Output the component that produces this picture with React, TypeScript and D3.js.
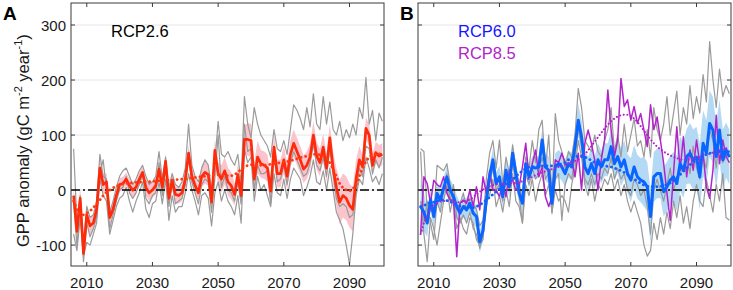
import React from "react";
import * as d3 from "d3";

const years: number[] = d3.range(2006, 2101);

// Panel A (RCP2.6)
const redA = [
  -10, -75, -15, -115,
  -45, -65, -60, -35, 40, 10, 15, -50, -35, -10,
  10, 12, 20, 8, 0, 5, 20, 32, 5, -5,
  0, 8, 38, 5, 52, -15, 18, -8, -10, -5,
  20, 67, 25, 8, -5, 25, 32, 28, -22, 72,
  30, 20, 35, 15, 8, -8, 28, -10, 92, 92,
  90, 20, 60, 48, 45, 40, -2, 78, 30, 30,
  55, 25, 65, 85, 70, 55, 38, 45, 60, 100,
  62, 50, 78, 40, 95, 40, 5, -22, -10, -15,
  -28, -35, 20, 55, 42, 112, 100, 45, 68, 62,
  65,
];
const redTrendA = [
  -20, -35, -45, -45,
  -42, -38, -32, -25, -18, -10, -4, 0, 4, 7,
  9, 11, 12, 13, 13, 14, 14, 15, 15, 15,
  16, 16, 17, 17, 18, 18, 18, 19, 19, 20,
  20, 21, 22, 23, 24, 24, 25, 26, 27, 28,
  28, 28, 27, 26, 26, 28, 32, 38, 42, 45,
  46, 46, 45, 45, 45, 46, 47, 48, 49, 50,
  51, 52, 53, 55, 57, 59, 60, 62, 64, 65,
  65, 64, 62, 58, 50, 38, 25, 12, 4, 0,
  -2, 2, 10, 25, 40, 52, 60, 64, 66, 66,
  65,
];
const redSpreadA = [
  15, 20, 20, 20,
  20, 15, 15, 15, 15, 20, 15, 15, 12, 12,
  12, 12, 12, 12, 12, 12, 12, 12, 15, 15,
  15, 15, 15, 15, 15, 15, 15, 15, 15, 15,
  15, 15, 15, 15, 15, 20, 20, 20, 20, 20,
  20, 25, 25, 25, 25, 20, 20, 20, 25, 30,
  30, 30, 30, 25, 25, 25, 25, 25, 25, 25,
  25, 25, 25, 25, 25, 25, 25, 25, 25, 25,
  25, 25, 25, 25, 25, 30, 35, 40, 40, 40,
  40, 40, 35, 25, 20, 20, 20, 20, 20, 20,
  20,
];
const grayA1 = [
  75, -60, -10, -100,
  -30, -50, -45, -20, 65, 25, 20, -40, -20, 5,
  25, 35, 40, 25, 10, 20, 35, 45, 25, 10,
  15, 25, 70, 20, 60, 5, 30, 10, 5, 15,
  40, 120, 45, 25, 15, 40, 55, 45, 0, 50,
  125, 65, 60, 70, 55, 45, 65, 10, 170, 120,
  95, 150, 120, 100, 90, 80, 60, 110, 75, 70,
  90, 65, 110, 155, 145, 130, 110, 150, 115, 175,
  120, 110, 170, 120, 160, 110, 100, 125, 90, 110,
  95, 120, 100, 150, 130, 205, 120, 145, 90, 140,
  125,
];
const grayA2 = [
  -20, -100, -30, -130,
  -60, -85, -70, -50, 30, 55, 0, -70, -45, -20,
  0, 5, 25, -5, -15, -5, 10, 30, -15, -25,
  -10, -5, 50, -10, 45, -30, 10, -25, -20, -15,
  10, 60, 15, -5, -25, 10, 20, 15, -40, 20,
  100, 5, 25, 0, -5, -20, 15, -25, 120, 70,
  75, 0, 45, 30, 30, 35, -25, 65, 15, 20,
  45, 10, 50, 70, 55, 40, 25, 30, 50, 85,
  45, 35, 60, 25, 75, 30, -15, -30, -25, -30,
  -50, -45, 0, 40, 25, 80, 75, 30, 55, 40,
  60,
];
const grayA3 = [
  -80, -110, -50, -120,
  -95, -100, -80, -60, 20, -10, -20, -80, -55, -30,
  -15, -10, 5, -20, -40, -20, -5, 15, -35, -50,
  -25, -20, 15, -25, 20, -55, -10, -40, -30, -30,
  -5, 30, 0, -20, -45, -10, -5, -15, -65, -5,
  15, -20, 0, -20, -30, -45, -10, -60, 75, 50,
  60, -20, 25, 0, 10, -10, -30, 30, -5, -10,
  20, -15, 20, 40, 30, 20, -10, 5, 25, 55,
  15, 10, 35, 0, 40, 0, -40, -55, -70, -100,
  -135, -80, -10, 20, 10, 60, 40, 15, 25, 10,
  30,
];

// Panel B (RCP6.0 and RCP8.5)
const blueB = [
  -30, -40, -60, -18,
  -48, -6, -18, 3, 24, 0, -12, -30, -42, -30,
  -36, -24, -42, -48, -94, -73, -18, 24, 55, 12,
  24, -12, 36, 6, 67, 30, -6, -24, 48, 24,
  42, 40, 42, 91, 42, 36, -24, 42, 48, 42,
  30, 48, 42, 79, 127, 97, 42, 30, 48, 30,
  55, 42, 55, 55, 79, 48, 61, 42, 55, 30,
  18, 42, 24, 18, 15, 6, -48, 24, 30, 30,
  -3, 6, 18, 24, 12, 48, 36, 61, 67, 55,
  60, 24, 85, 67, 121, 109, 61, 109, 55, 73,
  60,
];
const blueSpreadB = [
  50, 35, 25, 20,
  20, 20, 20, 20, 20, 20, 20, 20, 20, 20,
  20, 20, 20, 20, 20, 20, 20, 20, 20, 20,
  20, 20, 20, 20, 20, 20, 20, 20, 20, 20,
  20, 20, 20, 20, 25, 25, 25, 25, 25, 25,
  25, 25, 25, 30, 30, 30, 30, 30, 30, 30,
  30, 30, 30, 30, 30, 30, 30, 35, 35, 35,
  40, 40, 40, 40, 45, 45, 50, 45, 45, 45,
  45, 45, 45, 45, 50, 50, 50, 50, 55, 55,
  55, 60, 60, 60, 60, 60, 60, 55, 55, 50,
  50,
];
const blueTrendB = [
  -30, -28, -25, -23,
  -22, -20, -18, -18, -19, -21, -24, -27, -29, -30,
  -30, -32, -32, -30, -27, -23, -18, -13, -8, -3,
  2, 6, 10, 14, 19, 25, 30, 35, 39, 42,
  42, 43, 44, 44, 44, 44, 44, 45, 46, 48,
  50, 55, 58, 60, 62, 62, 60, 57, 54, 50,
  47, 45, 44, 43, 42, 40, 38, 35, 32, 28,
  24, 20, 16, 12, 9, 7, 6, 6, 6, 7,
  8, 10, 13, 17, 22, 28, 34, 40, 46, 51,
  55, 59, 62, 65, 67, 68, 69, 70, 70, 70,
  70,
];
const magentaB = [
  -79, 24, 12, -24,
  18, 10, 6, 24, -6, -18, -18, -121, -24, -18,
  -24, 0, -30, 6, -36, 24, -6, 36, 0, 0,
  -12, 12, -12, 36, 18, 0, 6, 42, 85, 24,
  48, 73, 24, 42, -12, -30, -12, 55, 50, 67,
  50, 42, 55, 24, 67, 0, 85, 109, 85, 55,
  0, 55, 91, 182, 109, 61, 91, 203, 152, 164,
  127, 152, 121, 139, 109, 79, 155, 110, 133, 91,
  48, -6, -55, 30, 115, 36, 97, 24, 73, 36,
  91, 48, 67, 6, -15, 36, 136, 48, 91, 61,
  50,
];
const magentaTrendB = [
  -80, -60, -45, -35,
  -28, -24, -21, -20, -20, -20, -21, -22, -22, -21,
  -20, -17, -13, -8, -3, 1, 4, 7, 9, 10,
  11, 11, 11, 12, 12, 13, 14, 16, 18, 21,
  24, 27, 30, 32, 34, 36, 38, 40, 42, 44,
  46, 48, 50, 53, 56, 60, 65, 72, 80, 88,
  96, 104, 112, 119, 125, 130, 134, 136, 137, 137,
  135, 130, 124, 116, 108, 100, 92, 85, 79, 74,
  70, 66, 63, 60, 58, 56, 55, 55, 56, 57,
  59, 60, 62, 64, 66, 68, 70, 72, 74, 76,
  78,
];
const grayB1 = [
  75, 70, -40, -20,
  -50, 45, 40, 35, 48, 10, -15, -35, -25, -5,
  -35, -15, -25, -35, -65, -55, 20, 67, 90, 40,
  91, 10, 60, 30, 82, 40, 10, -20, 60, 40,
  90, 50, 110, 127, 40, 100, -10, 139, 90, 70,
  40, 70, 60, 100, 185, 150, 90, 80, 70, 100,
  70, 60, 90, 110, 150, 70, 100, 60, 120, 70,
  100, 130, 80, 90, 60, 110, 60, 150, 110, 90,
  120, 170, 100, 140, 180, 100, 150, 120, 190, 130,
  170, 140, 210, 160, 270, 200, 150, 220, 170, 190,
  175,
];
const grayB2 = [
  70, -60, -20, -60,
  -90, -20, -40, 0, 30, -20, 10, -50, -60, -45,
  -60, -40, -70, -80, -106, -80, -30, 10, 40, 0,
  10, -20, 20, 0, 50, 10, -10, -60, 30, 10,
  40, 20, 30, 60, 20, 30, -42, 20, 30, -55,
  10, 30, 20, 60, 110, 80, 20, 10, 30, 10,
  30, 20, 40, 30, 60, 20, 40, 20, 30, 0,
  -10, 20, 10, -10, 0, -30, -80, 0, 20, 0,
  -20, 10, 40, 0, 20, 30, 40, 60, 30, 80,
  40, 20, 60, 40, 110, 90, 40, 100, 50, 60,
  70,
];
const grayB3 = [
  -20, -80, -130, -50,
  -70, -100, -60, -20, 10, -40, -10, -70, -50, -70,
  -80, -50, -60, -90, -100, -90, -20, -10, 20, -30,
  -10, -40, 0, -30, 30, -20, -30, -60, 10, -10,
  20, -20, 10, 30, -10, 10, -40, 0, -20, -10,
  -20, -40, 10, 40, 90, 60, 10, -10, 20, -20,
  10, 0, 20, 10, 30, 0, 20, -10, 10, -20,
  -40, -20, -40, -60, -100, -120, -110, -60, -90, -50,
  -80, -40, -70, -20, -50, -10, -60, -30, -70, -20,
  10, -20, -30, 20, -10, -40, 10, -20, 30, -50,
  -55,
];

const xTicks = [2010, 2030, 2050, 2070, 2090];
const yTicks = [-100, 0, 100, 200, 300];

const FONT = "'Liberation Sans', Arial, Helvetica, sans-serif";
const TOP = 3;
const BOTTOM = 266;

const yScale = d3.scaleLinear().domain([-138, 340]).range([BOTTOM, TOP]);

type Band = { mean: number[]; spread: number[]; fill: string };
type Line = { values: number[]; color: string; width: number; dash?: string; gray?: boolean };

function Panel(props: {
  id: string;
  left: number;
  right: number;
  letter: string;
  letterX: number;
  bands: Band[];
  lines: Line[];
  showYLabels: boolean;
}) {
  const { id, left, right, letter, letterX, bands, lines, showYLabels } = props;
  const x = d3.scaleLinear().domain([2005.2, 2100.5]).range([left, right]);
  const lineGen = (vals: number[]) =>
    d3
      .line<number>()
      .x((_, i) => x(years[i]))
      .y((d) => yScale(d))(vals) || "";
  const areaGen = (b: Band) =>
    d3
      .area<number>()
      .x((_, i) => x(years[i]))
      .y0((d, i) => yScale(d - b.spread[i]))
      .y1((d, i) => yScale(d + b.spread[i]))(b.mean) || "";
  const grays = lines.filter((l) => l.gray);
  const others = lines.filter((l) => !l.gray);
  return (
    <g>
      <defs>
        <clipPath id={"clip" + id}>
          <rect x={left} y={TOP} width={right - left} height={BOTTOM - TOP} />
        </clipPath>
      </defs>
      {yTicks.map((t) => (
        <line key={"g" + t} x1={left} x2={right} y1={yScale(t)} y2={yScale(t)} stroke="#e6e6e6" strokeWidth={1} />
      ))}
      <g clipPath={`url(#clip${id})`}>
        {bands.map((b, i) => (
          <path key={"b" + i} d={areaGen(b)} fill={b.fill} stroke="none" />
        ))}
        {grays.map((l, i) => (
          <path key={"gl" + i} d={lineGen(l.values)} fill="none" stroke={l.color} strokeWidth={l.width} strokeLinejoin="round" />
        ))}
        <line x1={left} x2={right} y1={yScale(0)} y2={yScale(0)} stroke="#000" strokeWidth={1.6} strokeDasharray="9,3,2,3" />
        {others.map((l, i) => (
          <path
            key={"l" + i}
            d={lineGen(l.values)}
            fill="none"
            stroke={l.color}
            strokeWidth={l.width}
            strokeDasharray={l.dash}
            strokeLinejoin="round"
            strokeLinecap={l.dash ? "round" : "butt"}
          />
        ))}
      </g>
      <rect x={left} y={TOP} width={right - left} height={BOTTOM - TOP} fill="none" stroke="#3a3a3a" strokeWidth={1} />
      {xTicks.map((t) => (
        <g key={"xt" + t}>
          <line x1={x(t)} x2={x(t)} y1={BOTTOM} y2={BOTTOM - 4} stroke="#3a3a3a" />
          <line x1={x(t)} x2={x(t)} y1={TOP} y2={TOP + 4} stroke="#3a3a3a" />
          <text x={x(t)} y={287.5} textAnchor="middle" fontFamily={FONT} fontSize={15} fill="#1a1a1a">
            {t}
          </text>
        </g>
      ))}
      {yTicks.map((t) => (
        <g key={"yt" + t}>
          <line x1={left} x2={left + 4} y1={yScale(t)} y2={yScale(t)} stroke="#3a3a3a" />
          <line x1={right} x2={right - 4} y1={yScale(t)} y2={yScale(t)} stroke="#3a3a3a" />
          {showYLabels && (
            <text x={left - 5} y={yScale(t) + 5.5} textAnchor="end" fontFamily={FONT} fontSize={15} fill="#1a1a1a">
              {t}
            </text>
          )}
        </g>
      ))}
      <text x={letterX} y={20} fontFamily={FONT} fontSize={19} fontWeight="bold" fill="#000">
        {letter}
      </text>
    </g>
  );
}

export default function App() {
  const gray = "#9a9a9a";
  return (
    <svg width={733} height={290} style={{ display: "block", position: "absolute", left: 0, top: 0, background: "#fff" }}>
      <rect x={0} y={0} width={733} height={290} fill="#fff" />
      <Panel
        id="A"
        left={71}
        right={384}
        letter="A"
        letterX={3}
        showYLabels={true}
        bands={[{ mean: redA, spread: redSpreadA, fill: "#fbc3cc" }]}
        lines={[
          { values: grayA1, color: gray, width: 1.2, gray: true },
          { values: grayA2, color: gray, width: 1.2, gray: true },
          { values: grayA3, color: gray, width: 1.2, gray: true },
          { values: redA, color: "#ff2a0a", width: 2.7 },
          { values: redTrendA, color: "#ff3a10", width: 2.8, dash: "0.1,4.5" },
        ]}
      />
      <Panel
        id="B"
        left={418}
        right={731}
        letter="B"
        letterX={400}
        showYLabels={false}
        bands={[{ mean: blueB, spread: blueSpreadB, fill: "#b3d9f5" }]}
        lines={[
          { values: grayB1, color: gray, width: 1.2, gray: true },
          { values: grayB2, color: gray, width: 1.2, gray: true },
          { values: grayB3, color: gray, width: 1.2, gray: true },
          { values: magentaB, color: "#b124c9", width: 1.5 },
          { values: blueB, color: "#0a64ff", width: 3 },
          { values: magentaTrendB, color: "#b124c9", width: 2, dash: "0.1,3.5" },
          { values: blueTrendB, color: "#1060ff", width: 2.8, dash: "0.1,4.5" },
        ]}
      />
      <text x={111} y={37} fontFamily={FONT} fontSize={16.5} fill="#000">
        RCP2.6
      </text>
      <text x={458} y={37} fontFamily={FONT} fontSize={16.5} fill="#1414ff">
        RCP6.0
      </text>
      <text x={458} y={59} fontFamily={FONT} fontSize={16.5} fill="#b124c9">
        RCP8.5
      </text>
      <text
        transform="translate(28.5,247) rotate(-90)"
        textAnchor="start"
        fontFamily={FONT}
        fontSize={16.5}
        fill="#1a1a1a"
      >
        GPP anomaly (gC m
        <tspan fontSize={11} dy={-7}>-2</tspan>
        <tspan dy={7}> year</tspan>
        <tspan fontSize={11} dy={-7}>-1</tspan>
        <tspan dy={7}>)</tspan>
      </text>
    </svg>
  );
}
